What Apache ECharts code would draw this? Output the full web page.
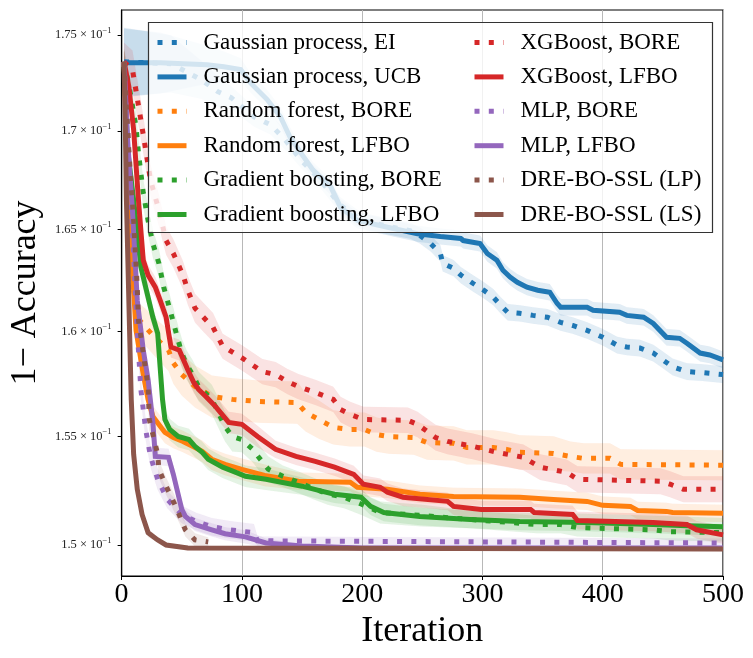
<!DOCTYPE html>
<html>
<head>
<meta charset="utf-8">
<script src="https://cdn.jsdelivr.net/npm/echarts@6.0.0/dist/echarts.min.js"></script>
<style>
  html, body { margin: 0; padding: 0; background: #fff; }
  #chart { width: 753px; height: 658px; }
</style>
</head>
<body>
<div id="chart"></div>
<script>
// each point: [iteration, mean of 1 - accuracy, half width of the shaded band]
var gpEi = [
  [2,0.17359,0.0018],[41,0.17349,0.0015],[66,0.17266,0.0010],[80,0.17203,0.0008],[91,0.17172,0.0006],
  [110,0.17073,0.0005],[124,0.17031,0.0005],[136,0.16954,0.0005],[149,0.16852,0.0004],[165,0.16750,0.0004],
  [182,0.16622,0.0004],[199,0.16546,0.0004],[223,0.16515,0.0004],[240,0.16495,0.0004],[248,0.16471,0.0004],
  [257,0.16431,0.0004],[265,0.16382,0.0004],[267,0.16333,0.0004],[276,0.16309,0.0004],[282,0.16275,0.0004],
  [292,0.16235,0.0004],[301,0.16201,0.0004],[309,0.16167,0.0004],[315,0.16128,0.0004],[321,0.16093,0.0004],
  [331,0.16088,0.0004],[342,0.16078,0.0004],[354,0.16069,0.0004],[365,0.16044,0.0004],[375,0.16029,0.0004],
  [387,0.16005,0.0004],[400,0.15972,0.0004],[412,0.15934,0.0004],[420,0.15925,0.0004],[431,0.15920,0.0004],
  [442,0.15896,0.0004],[450,0.15863,0.0004],[458,0.15830,0.0004],[470,0.15807,0.0004],[483,0.15802,0.0004],
  [500,0.15793,0.0004]
];
var gpUcb = [
  [2,0.17354,0.0018],[32,0.17354,0.0016],[71,0.17344,0.0010],[85,0.17333,0.0008],[99,0.17318,0.0006],
  [107,0.17250,0.0005],[121,0.17162,0.0005],[132,0.17073,0.0005],[140,0.16969,0.0005],[149,0.16888,0.0004],
  [159,0.16801,0.0004],[174,0.16714,0.0004],[182,0.16612,0.0004],[196,0.16546,0.0004],[223,0.16510,0.0004],
  [246,0.16480,0.0004],[265,0.16466,0.0004],[282,0.16456,0.0004],[284,0.16446,0.0004],[298,0.16431,0.0004],
  [304,0.16382,0.0004],[312,0.16348,0.0004],[317,0.16299,0.0004],[323,0.16265,0.0004],[329,0.16240,0.0004],
  [337,0.16216,0.0004],[346,0.16201,0.0004],[356,0.16191,0.0004],[362,0.16137,0.0004],[365,0.16118,0.0004],
  [387,0.16118,0.0004],[392,0.16103,0.0004],[414,0.16093,0.0004],[420,0.16078,0.0004],[434,0.16069,0.0004],
  [442,0.16039,0.0004],[453,0.15972,0.0004],[464,0.15967,0.0004],[470,0.15943,0.0004],[481,0.15896,0.0004],
  [489,0.15887,0.0004],[500,0.15863,0.0004]
];
var rfBore = [
  [2,0.17359,0.0008],[5,0.16903,0.0008],[7,0.16495,0.0008],[10,0.16201,0.0008],[15,0.16054,0.0008],
  [20,0.16020,0.0009],[26,0.15981,0.0009],[39,0.15910,0.0010],[43,0.15849,0.0010],[50,0.15793,0.0010],
  [61,0.15736,0.0010],[75,0.15689,0.0010],[92,0.15675,0.0010],[114,0.15665,0.0010],[146,0.15660,0.0010],
  [153,0.15613,0.0009],[164,0.15580,0.0009],[176,0.15543,0.0008],[190,0.15533,0.0008],[202,0.15533,0.0008],
  [212,0.15509,0.0008],[222,0.15500,0.0008],[243,0.15495,0.0008],[254,0.15472,0.0008],[276,0.15468,0.0008],
  [287,0.15449,0.0008],[309,0.15449,0.0008],[320,0.15440,0.0008],[331,0.15426,0.0008],[359,0.15421,0.0008],
  [373,0.15407,0.0007],[384,0.15398,0.0007],[406,0.15398,0.0007],[415,0.15370,0.0007],[500,0.15366,0.0007]
];
var rfLfbo = [
  [2,0.17359,0.0006],[5,0.16852,0.0006],[8,0.16397,0.0006],[12,0.16005,0.0006],[18,0.15793,0.0006],
  [22,0.15675,0.0005],[26,0.15594,0.0005],[36,0.15519,0.0005],[43,0.15495,0.0005],[51,0.15477,0.0005],
  [59,0.15454,0.0005],[67,0.15431,0.0005],[75,0.15394,0.0005],[86,0.15370,0.0005],[100,0.15347,0.0005],
  [119,0.15319,0.0005],[147,0.15292,0.0004],[190,0.15287,0.0004],[196,0.15264,0.0004],[221,0.15255,0.0004],
  [248,0.15232,0.0004],[276,0.15222,0.0004],[331,0.15218,0.0004],[359,0.15208,0.0004],[387,0.15199,0.0004],
  [400,0.15181,0.0004],[423,0.15176,0.0004],[429,0.15157,0.0004],[453,0.15153,0.0004],[458,0.15148,0.0004],
  [500,0.15144,0.0004]
];
var gbBore = [
  [2,0.17359,0.0007],[7,0.17203,0.0007],[12,0.17021,0.0007],[14,0.16888,0.0007],[18,0.16684,0.0007],
  [22,0.16546,0.0007],[26,0.16431,0.0007],[31,0.16333,0.0007],[35,0.16216,0.0007],[41,0.16088,0.0007],
  [47,0.15958,0.0007],[50,0.15896,0.0007],[54,0.15840,0.0007],[59,0.15793,0.0007],[64,0.15736,0.0007],
  [75,0.15675,0.0007],[86,0.15547,0.0007],[92,0.15500,0.0007],[100,0.15486,0.0006],[109,0.15440,0.0006],
  [114,0.15403,0.0006],[122,0.15347,0.0006],[134,0.15315,0.0005],[147,0.15287,0.0005],[161,0.15255,0.0005],
  [172,0.15232,0.0005],[185,0.15218,0.0005],[200,0.15185,0.0005],[215,0.15148,0.0005],[250,0.15134,0.0005],
  [290,0.15116,0.0004],[345,0.15093,0.0004],[365,0.15093,0.0004],[379,0.15079,0.0004],[442,0.15069,0.0004],
  [456,0.15060,0.0004],[500,0.15056,0.0004]
];
var gbLfbo = [
  [2,0.17359,0.0006],[5,0.16903,0.0006],[10,0.16648,0.0006],[16,0.16314,0.0006],[26,0.16069,0.0005],
  [30,0.15991,0.0005],[32,0.15830,0.0005],[34,0.15675,0.0005],[36,0.15580,0.0005],[40,0.15533,0.0005],
  [47,0.15500,0.0005],[56,0.15486,0.0005],[61,0.15454,0.0005],[67,0.15426,0.0005],[72,0.15394,0.0005],
  [84,0.15357,0.0005],[95,0.15333,0.0005],[103,0.15315,0.0005],[120,0.15301,0.0005],[150,0.15269,0.0004],
  [167,0.15245,0.0004],[177,0.15232,0.0004],[199,0.15218,0.0004],[207,0.15176,0.0004],[218,0.15148,0.0004],
  [248,0.15130,0.0004],[290,0.15116,0.0004],[331,0.15107,0.0004],[387,0.15102,0.0004],[442,0.15093,0.0004],
  [470,0.15088,0.0004],[500,0.15083,0.0004]
];
var xgbBore = [
  [2,0.17359,0.0010],[9,0.17318,0.0010],[16,0.17057,0.0010],[20,0.16903,0.0009],[24,0.16750,0.0008],
  [31,0.16597,0.0008],[37,0.16446,0.0007],[43,0.16382,0.0007],[51,0.16275,0.0007],[55,0.16201,0.0007],
  [61,0.16113,0.0007],[68,0.16069,0.0007],[76,0.16020,0.0007],[84,0.15929,0.0006],[100,0.15873,0.0006],
  [117,0.15807,0.0006],[128,0.15793,0.0006],[138,0.15759,0.0006],[147,0.15736,0.0006],[161,0.15708,0.0006],
  [176,0.15675,0.0006],[182,0.15627,0.0006],[190,0.15604,0.0006],[201,0.15580,0.0006],[238,0.15576,0.0006],
  [246,0.15557,0.0006],[254,0.15524,0.0006],[261,0.15495,0.0006],[271,0.15477,0.0006],[292,0.15454,0.0006],
  [312,0.15426,0.0006],[334,0.15403,0.0006],[348,0.15357,0.0006],[370,0.15333,0.0006],[379,0.15301,0.0006],
  [448,0.15292,0.0006],[456,0.15278,0.0006],[467,0.15255,0.0006],[500,0.15255,0.0006]
];
var xgbLfbo = [
  [2,0.17359,0.0006],[6,0.17229,0.0006],[10,0.17005,0.0006],[14,0.16648,0.0006],[18,0.16348,0.0005],
  [22,0.16275,0.0005],[28,0.16216,0.0005],[32,0.16152,0.0005],[37,0.16069,0.0005],[41,0.15925,0.0005],
  [48,0.15910,0.0005],[55,0.15816,0.0005],[60,0.15755,0.0005],[64,0.15722,0.0005],[70,0.15689,0.0005],
  [78,0.15642,0.0005],[89,0.15566,0.0005],[100,0.15557,0.0005],[113,0.15500,0.0005],[128,0.15440,0.0004],
  [145,0.15407,0.0004],[161,0.15384,0.0004],[177,0.15357,0.0004],[193,0.15324,0.0004],[201,0.15278,0.0004],
  [215,0.15264,0.0004],[221,0.15241,0.0004],[234,0.15218,0.0004],[271,0.15199,0.0004],[276,0.15176,0.0004],
  [299,0.15162,0.0004],[340,0.15162,0.0004],[343,0.15148,0.0004],[375,0.15139,0.0004],[379,0.15111,0.0004],
  [442,0.15102,0.0004],[470,0.15093,0.0004],[478,0.15069,0.0004],[500,0.15046,0.0004]
];
var mlpBore = [
  [2,0.17359,0.0005],[5,0.17005,0.0005],[9,0.16495,0.0005],[13,0.16005,0.0005],[16,0.15722,0.0005],
  [20,0.15533,0.0005],[24,0.15407,0.0005],[30,0.15301,0.0005],[38,0.15208,0.0004],[50,0.15139,0.0004],
  [62,0.15107,0.0004],[75,0.15083,0.0004],[90,0.15069,0.0004],[110,0.15056,0.0004],[113,0.15019,0.0002],
  [300,0.15014,0.0002],[500,0.15009,0.0002]
];
var mlpLfbo = [
  [2,0.17359,0.0004],[5,0.16954,0.0004],[9,0.16597,0.0004],[13,0.16152,0.0004],[18,0.15910,0.0004],
  [22,0.15769,0.0004],[26,0.15566,0.0004],[28,0.15407,0.0004],[39,0.15403,0.0004],[43,0.15324,0.0004],
  [46,0.15255,0.0004],[50,0.15162,0.0004],[53,0.15130,0.0003],[61,0.15093,0.0003],[75,0.15069,0.0003],
  [86,0.15051,0.0003],[103,0.15037,0.0003],[120,0.15009,0.0002],[150,0.14995,0.0001],[200,0.14986,0.0001],
  [500,0.14986,0.0001]
];
var dreLp = [
  [2,0.17359,0.0005],[6,0.16903,0.0005],[10,0.16546,0.0005],[13,0.16216,0.0005],[14,0.16054,0.0005],
  [22,0.15736,0.0005],[23,0.15580,0.0005],[30,0.15417,0.0004],[31,0.15347,0.0004],[37,0.15269,0.0004],
  [45,0.15176,0.0004],[53,0.15069,0.0003],[61,0.15023,0.0003],[72,0.15014,0.0002]
];
var dreLs = [
  [2,0.17359,0.0003],[3,0.17057,0.0003],[4,0.16648,0.0003],[6,0.16152,0.0003],[8,0.15675,0.0003],
  [10,0.15417,0.0003],[13,0.15255,0.0002],[17,0.15139,0.0002],[22,0.15056,0.0002],[30,0.15023,0.0001],
  [37,0.15000,0.0001],[55,0.14986,0.0001],[500,0.14982,0.0001]
];

var yTicks = [0.15, 0.155, 0.16, 0.165, 0.17, 0.175];
var yTickText = ['1.5', '1.55', '1.6', '1.65', '1.7', '1.75'];
var xTicks = [0, 100, 200, 300, 400, 500];

var FONT = '"Liberation Serif", "Times New Roman", serif';
var DOT = [5, 9.3];

var runs = [
  { name: 'Gaussian process, EI', data: gpEi, color: '#1f77b4', dotted: true },
  { name: 'Gaussian process, UCB', data: gpUcb, color: '#1f77b4', dotted: false },
  { name: 'Random forest, BORE', data: rfBore, color: '#ff7f0e', dotted: true },
  { name: 'Random forest, LFBO', data: rfLfbo, color: '#ff7f0e', dotted: false },
  { name: 'Gradient boosting, BORE', data: gbBore, color: '#2ca02c', dotted: true },
  { name: 'Gradient boosting, LFBO', data: gbLfbo, color: '#2ca02c', dotted: false },
  { name: 'XGBoost, BORE', data: xgbBore, color: '#d62728', dotted: true },
  { name: 'XGBoost, LFBO', data: xgbLfbo, color: '#d62728', dotted: false },
  { name: 'MLP, BORE', data: mlpBore, color: '#9467bd', dotted: true },
  { name: 'MLP, LFBO', data: mlpLfbo, color: '#9467bd', dotted: false },
  { name: 'DRE-BO-SSL (LP)', data: dreLp, color: '#8c564b', dotted: true },
  { name: 'DRE-BO-SSL (LS)', data: dreLs, color: '#8c564b', dotted: false }
];

// the y axis is logarithmic: values are plotted as log10 on a value axis
function lg(v) { return Math.log10(v); }
var yMin = lg(0.14860), yMax = lg(0.17633);
var yTickVals = yTicks.map(lg);

function bandSeries(run) {
  var pts = run.data;
  return {
    type: 'custom',
    silent: true,
    clip: true,
    z: 2,
    data: [[0, yMin]],
    renderItem: function (params, api) {
      var upper = [], lower = [];
      pts.forEach(function (d) {
        upper.push(api.coord([d[0], lg(d[1] + d[2])]));
        lower.unshift(api.coord([d[0], lg(d[1] - d[2])]));
      });
      return {
        type: 'polygon',
        shape: { points: upper.concat(lower) },
        style: { fill: run.color, opacity: 0.13, stroke: run.color, lineWidth: 1, strokeOpacity: 0.08 }
      };
    }
  };
}

function lineSeries(run) {
  return {
    name: run.name,
    type: 'line',
    symbol: 'none',
    showSymbol: false,
    clip: true,
    z: 2,
    data: run.data.map(function (d) { return [d[0], lg(d[1])]; }),
    lineStyle: { color: run.color, width: 5, type: run.dotted ? DOT : 'solid', cap: 'butt', join: 'miter' },
    itemStyle: { color: run.color }
  };
}

var series = [];
runs.forEach(function (r) {
  series.push(bandSeries(r));
  series.push(lineSeries(r));
});

var names = runs.map(function (r) { return r.name; });

function legendCol(items, left) {
  return {
    data: items,
    orient: 'vertical',
    left: left,
    top: 31,
    padding: 0,
    itemWidth: 29,
    itemHeight: 22,
    itemGap: 11.4,
    selectedMode: false,
    z: 5,
    // line series legend icons always carry a marker; hide it so only the line shows
    itemStyle: { color: 'rgba(0,0,0,0)', borderWidth: 0, opacity: 0 },
    lineStyle: { width: 5 },
    textStyle: { fontFamily: FONT, fontSize: 23, lineHeight: 22, color: '#000', padding: [0, 0, 0, 12] }
  };
}

var chart = echarts.init(document.getElementById('chart'), null, { renderer: 'canvas' });

chart.setOption({
  animation: false,
  backgroundColor: '#fff',
  grid: {
    left: 121, right: 30, top: 10, bottom: 82,
    show: true, borderColor: '#000', borderWidth: 1.2, backgroundColor: 'transparent'
  },
  legend: [legendCol(names.slice(0, 6), 155), legendCol(names.slice(6), 472)],
  graphic: {
    elements: [{
      type: 'rect',
      z: 3,
      silent: true,
      shape: { x: 148.5, y: 22.5, width: 564, height: 210 },
      style: { fill: 'rgba(255,255,255,0.8)', stroke: '#333', lineWidth: 1.2 }
    }]
  },
  xAxis: {
    type: 'value',
    min: xTicks[0],
    max: xTicks[xTicks.length - 1],
    interval: 100,
    name: 'Iteration',
    nameLocation: 'middle',
    nameGap: 32,
    nameTextStyle: { fontFamily: FONT, fontSize: 36, color: '#000' },
    axisLine: { show: true, lineStyle: { color: '#000', width: 1.2 } },
    axisTick: { show: true, length: 4, lineStyle: { color: '#000', width: 1 } },
    axisLabel: { fontFamily: FONT, fontSize: 28, color: '#000', margin: 5, showMinLabel: true, showMaxLabel: true },
    splitLine: { show: true, lineStyle: { color: '#b8b8b8', width: 1 } }
  },
  yAxis: {
    type: 'value',
    min: yMin,
    max: yMax,
    name: '1\u2212 Accuracy',
    nameLocation: 'middle',
    nameGap: 76,
    nameTextStyle: { fontFamily: FONT, fontSize: 36, color: '#000' },
    axisLine: { show: true, lineStyle: { color: '#000', width: 1.2 } },
    axisTick: { show: true, length: 4, customValues: yTickVals, lineStyle: { color: '#000', width: 1 } },
    axisLabel: {
      customValues: yTickVals,
      margin: 10,
      formatter: function (val) {
        var best = 0;
        yTickVals.forEach(function (t, i) {
          if (Math.abs(t - val) < Math.abs(yTickVals[best] - val)) best = i;
        });
        return '{m|' + yTickText[best] + ' \u00d7 10}{e|\u22121}';
      },
      rich: {
        m: { fontFamily: FONT, fontSize: 12.5, color: '#222' },
        e: { fontFamily: FONT, fontSize: 8.5, color: '#222', padding: [0, 0, 9, 0] }
      }
    },
    splitLine: { show: false }
  },
  series: series
});
</script>
</body>
</html>
